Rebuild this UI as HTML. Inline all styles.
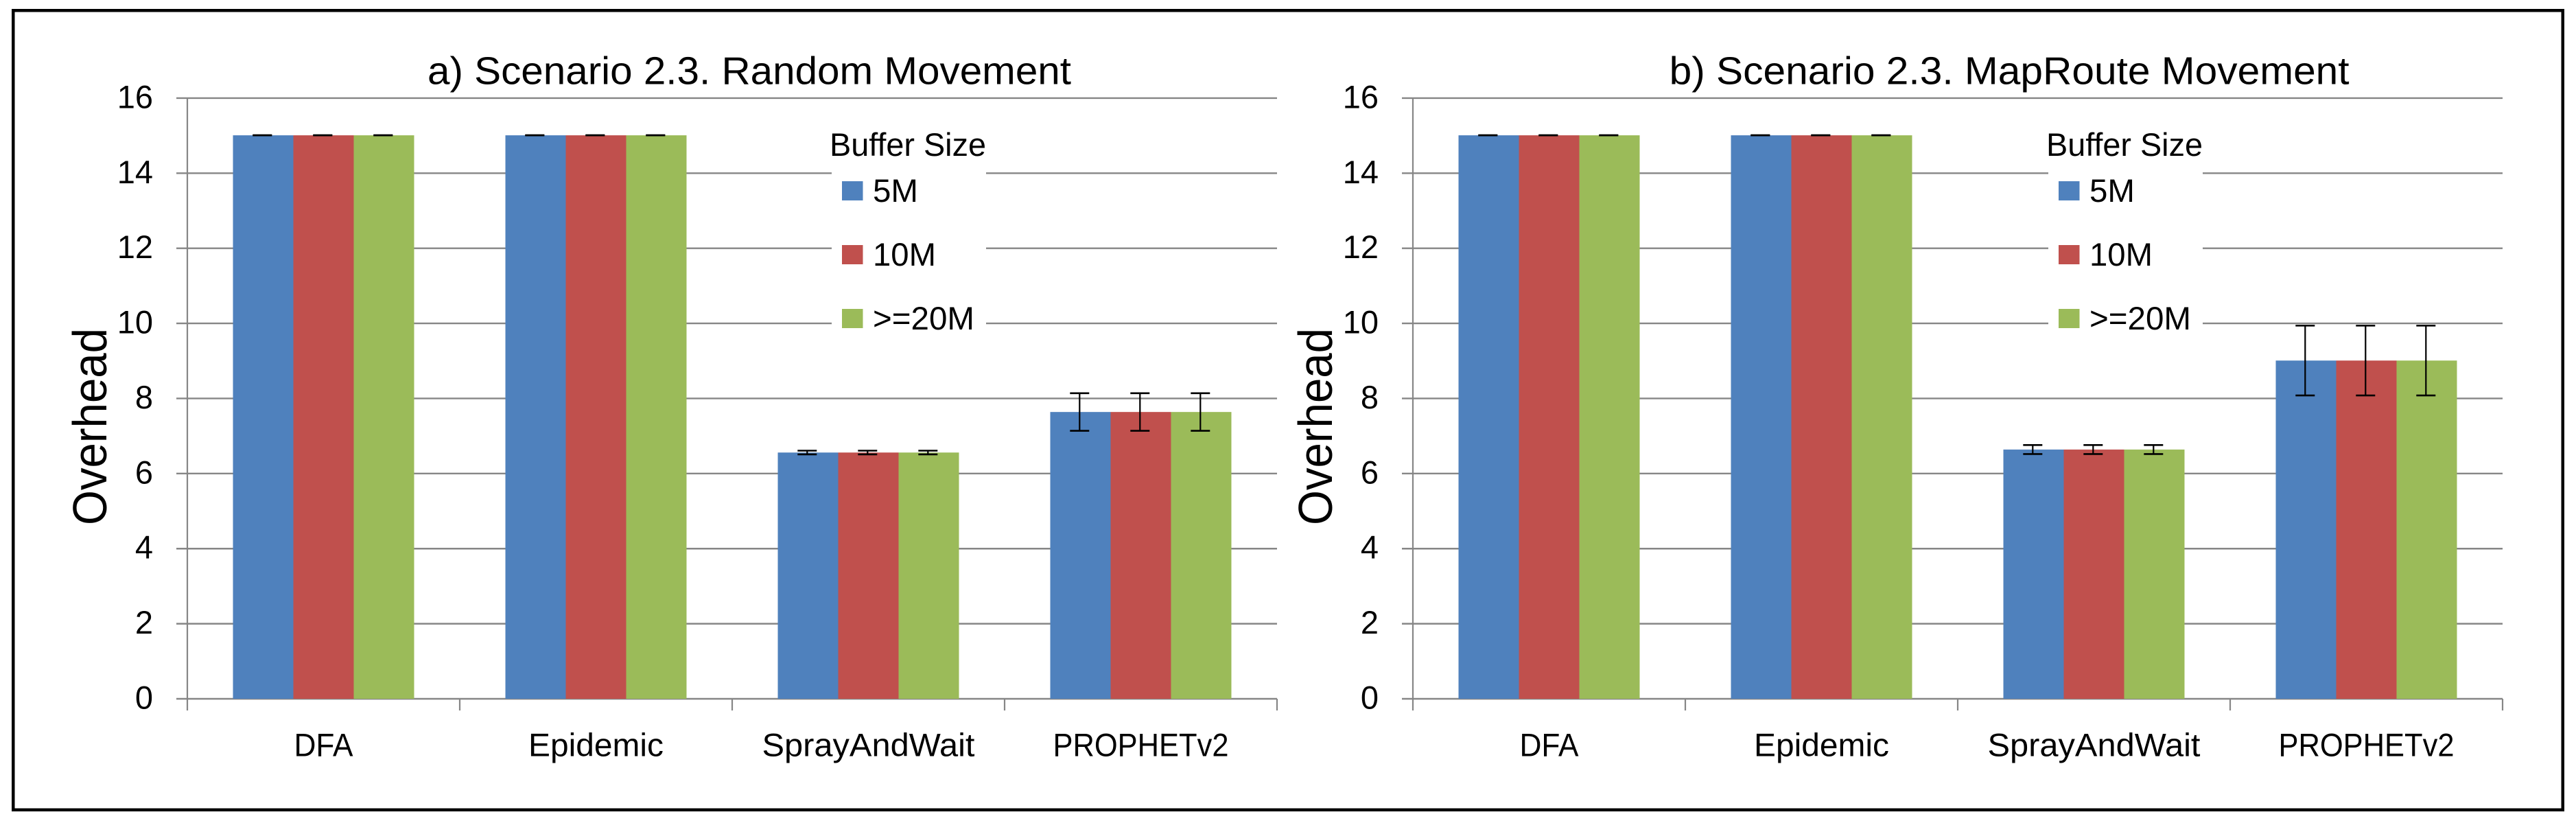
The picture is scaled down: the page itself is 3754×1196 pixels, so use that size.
<!DOCTYPE html>
<html lang="en">
<head>
<meta charset="utf-8">
<title>Scenario 2.3 Overhead Charts</title>
<style>
html,body{margin:0;padding:0;background:#fff;width:3754px;height:1196px;overflow:hidden}
svg{display:block}
text{font-family:"Liberation Sans",Arial,sans-serif;fill:#000}
</style>
</head>
<body>
<svg id="figure" xmlns="http://www.w3.org/2000/svg" width="3754" height="1196" viewBox="0 0 3754 1196">
<rect x="0" y="0" width="3754" height="1196" fill="#ffffff"/>
<rect x="19.25" y="15.25" width="3715.5" height="1164.5" fill="none" stroke="#000" stroke-width="4.5"/>
</svg>
<script>
const categories = ['DFA', 'Epidemic', 'SprayAndWait', 'PROPHETv2'];
const seriesNames = ['5M', '10M', '>=20M'];
const yTicks = [0, 2, 4, 6, 8, 10, 12, 14, 16];
const panelATitle = 'a) Scenario 2.3. Random Movement';
const panelBTitle = 'b) Scenario 2.3. MapRoute Movement';
const legendTitle = 'Buffer Size';
const yAxisTitle = 'Overhead';

const panelA5M = [15.01, 15.01, 6.56, 7.64];
const panelA10M = [15.01, 15.01, 6.56, 7.64];
const panelA20M = [15.01, 15.01, 6.56, 7.64];
const panelAError = [0, 0, 0.05, 0.5];

const panelB5M = [15.01, 15.01, 6.64, 9.01];
const panelB10M = [15.01, 15.01, 6.64, 9.01];
const panelB20M = [15.01, 15.01, 6.64, 9.01];
const panelBError = [0, 0, 0.12, 0.93];

const colors = ['#4F81BD', '#C0504D', '#9BBB59'];
const labelFit = { 'DFA': 86, 'Epidemic': 197, 'SprayAndWait': 310, 'PROPHETv2': 256, '5M': 66, '10M': 92, '>=20M': 148 };
const legendRowOffset = [0, 93, 186];

const NS = 'http://www.w3.org/2000/svg';
const svg = document.getElementById('figure');
const Y0 = 1018, PX_PER_UNIT = 54.69, CAT_W = 397, BAR_W = 88;

function make(parent, tag, attrs, text) {
  const el = document.createElementNS(NS, tag);
  for (const k in attrs) el.setAttribute(k, attrs[k]);
  if (text !== undefined) el.textContent = text;
  parent.appendChild(el);
  return el;
}

function drawPanel(prefix, axisX, legendDX, yTitleX, title, titleX, titleW, seriesValues, errors) {
  const yScale = v => Y0 - v * PX_PER_UNIT;
  const catCenter = i => axisX + CAT_W * (i + 0.5);
  const barLeft = (i, s) => catCenter(i) - 1.5 * BAR_W + s * BAR_W;
  const plotRight = axisX + CAT_W * categories.length;

  const g = make(svg, 'g', {});
  
  

  const titleEl = make(g, 'text', { x: titleX, y: 122.7, 'font-size': 57, textLength: titleW, lengthAdjust: 'spacingAndGlyphs' }, title);
  
  

  const yTitle = make(g, 'text', { transform: 'translate(' + yTitleX + ',765) rotate(-90)', x: 0, y: 0, 'font-size': 70, textLength: 287, lengthAdjust: 'spacingAndGlyphs' }, yAxisTitle);
  
  

  yTicks.forEach(t => {
    const y = yScale(t);
    const line = make(g, 'line', { x1: axisX - 16, x2: plotRight, y1: y, y2: y, stroke: '#868686', 'stroke-width': 2.4 });
    
    
    const lab = make(g, 'text', { x: axisX - 50, y: y + 14.5, 'font-size': 47, 'text-anchor': 'end' }, String(t));
    
    
  });

  categories.forEach((c, i) => {
    seriesValues.forEach((vals, s) => {
      const top = yScale(vals[i]);
      const bar = make(g, 'rect', { x: barLeft(i, s), y: top, width: BAR_W, height: Y0 - top, fill: colors[s] });
      
      
    });
  });

  const yAxis = make(g, 'line', { x1: axisX, x2: axisX, y1: yScale(16), y2: 1035, stroke: '#868686', 'stroke-width': 2.2 });
  
  

  for (let i = 1; i <= categories.length; i++) {
    const tx = axisX + CAT_W * i;
    const tick = make(g, 'line', { x1: tx, x2: tx, y1: Y0, y2: 1035, stroke: '#868686', 'stroke-width': 2.2 });
    
    
  }

  categories.forEach((c, i) => {
    seriesValues.forEach((vals, s) => {
      const cx = barLeft(i, s) + BAR_W / 2 - 1.2;
      const hi = yScale(vals[i] + errors[i]);
      const lo = yScale(vals[i] - errors[i]);
      const eg = make(g, 'g', { stroke: '#000' });
      
      
      make(eg, 'line', { x1: cx, x2: cx, y1: hi, y2: lo, 'stroke-width': 2.2 });
      make(eg, 'line', { x1: cx - 14, x2: cx + 14, y1: hi, y2: hi, 'stroke-width': 2.6 });
      make(eg, 'line', { x1: cx - 14, x2: cx + 14, y1: lo, y2: lo, 'stroke-width': 2.6 });
    });
    const lab = make(g, 'text', { x: catCenter(i), y: 1101.7, 'font-size': 47, 'text-anchor': 'middle', textLength: labelFit[c], lengthAdjust: 'spacingAndGlyphs' }, c);
    
    
  });

  const legend = make(g, 'g', { transform: 'translate(' + legendDX + ',0)' });
  
  
  make(legend, 'rect', { x: 1212, y: 190, width: 225, height: 305, fill: '#ffffff' });
  const lt = make(legend, 'text', { x: 1209, y: 227, 'font-size': 47, textLength: 228, lengthAdjust: 'spacingAndGlyphs' }, legendTitle);
  
  
  seriesNames.forEach((name, s) => {
    const dy = legendRowOffset[s];
    const sw = make(legend, 'rect', { x: 1227, y: 264 + dy, width: 30.5, height: 28, fill: colors[s] });
    
    
    const tx = make(legend, 'text', { x: 1272, y: 294 + dy, 'font-size': 47, textLength: labelFit[name], lengthAdjust: 'spacingAndGlyphs' }, name);
    
    
  });
}

drawPanel('random-movement', 273, 0, 155, panelATitle, 623, 938, [panelA5M, panelA10M, panelA20M], panelAError);
drawPanel('maproute-movement', 2059, 1773, 1941, panelBTitle, 2432.6, 991, [panelB5M, panelB10M, panelB20M], panelBError);
</script>
</body>
</html>
